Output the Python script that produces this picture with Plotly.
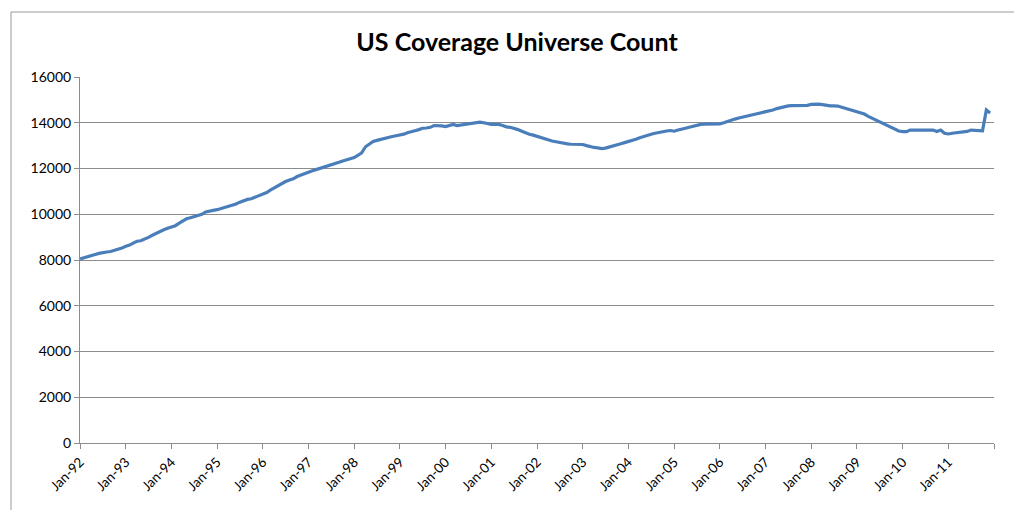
import pandas as pd
import plotly.graph_objects as go

# Monthly count of US companies under coverage, Jan-1992 .. Dec-2011 (one row per year)
counts_1992 = [8050, 8090, 8140, 8190, 8240, 8290, 8330, 8350, 8370, 8410, 8460, 8520]
counts_1993 = [8600, 8650, 8740, 8820, 8840, 8900, 8990, 9080, 9170, 9250, 9320, 9390]
counts_1994 = [9450, 9500, 9600, 9700, 9800, 9850, 9900, 9950, 10000, 10100, 10150, 10170]
counts_1995 = [10200, 10250, 10300, 10350, 10400, 10450, 10530, 10600, 10650, 10680, 10750, 10800]
counts_1996 = [10880, 10950, 11050, 11150, 11250, 11350, 11430, 11500, 11550, 11650, 11720, 11780]
counts_1997 = [11830, 11900, 11950, 12000, 12040, 12100, 12150, 12200, 12270, 12330, 12380, 12420]
counts_1998 = [12480, 12580, 12680, 12950, 13080, 13180, 13230, 13280, 13320, 13360, 13400, 13430]
counts_1999 = [13450, 13500, 13560, 13620, 13650, 13700, 13760, 13770, 13800, 13880, 13880, 13860]
counts_2000 = [13830, 13900, 13930, 13880, 13900, 13940, 13960, 13980, 14000, 14030, 14000, 13950]
counts_2001 = [13930, 13930, 13930, 13880, 13820, 13800, 13760, 13700, 13630, 13560, 13500, 13460]
counts_2002 = [13400, 13350, 13300, 13250, 13200, 13170, 13130, 13100, 13080, 13060, 13060, 13060]
counts_2003 = [13050, 13000, 12950, 12920, 12900, 12870, 12890, 12930, 12980, 13030, 13080, 13130]
counts_2004 = [13170, 13230, 13280, 13340, 13400, 13460, 13500, 13540, 13580, 13610, 13640, 13660]
counts_2005 = [13630, 13680, 13730, 13760, 13800, 13850, 13900, 13930, 13940, 13940, 13940, 13940]
counts_2006 = [13950, 14000, 14060, 14110, 14160, 14210, 14250, 14280, 14320, 14360, 14380, 14430]
counts_2007 = [14480, 14520, 14560, 14620, 14660, 14710, 14740, 14750, 14750, 14750, 14750, 14760]
counts_2008 = [14800, 14810, 14810, 14790, 14750, 14740, 14740, 14730, 14680, 14630, 14570, 14500]
counts_2009 = [14470, 14430, 14380, 14280, 14200, 14120, 14070, 13990, 13910, 13830, 13740, 13640]
counts_2010 = [13610, 13610, 13680, 13680, 13680, 13680, 13680, 13680, 13680, 13620, 13680, 13540]
counts_2011 = [13510, 13540, 13560, 13570, 13570, 13620, 13680, 13670, 13650, 13650, 14560, 14430]

yearly = [counts_1992, counts_1993, counts_1994, counts_1995, counts_1996,
          counts_1997, counts_1998, counts_1999, counts_2000, counts_2001,
          counts_2002, counts_2003, counts_2004, counts_2005, counts_2006,
          counts_2007, counts_2008, counts_2009, counts_2010, counts_2011]
counts = [v for year in yearly for v in year]
months = pd.date_range("1992-01-01", periods=len(counts), freq="MS")

# Axis labels
tick_years = list(range(1992, 2013))
tick_labels = [f"Jan-{y % 100:02d}" for y in range(1992, 2012)] + [""]
y_ticks = [0, 2000, 4000, 6000, 8000, 10000, 12000, 14000, 16000]

GRID = "#8c8c8c"
FONT = "Lato, 'Open Sans', Arial, sans-serif"

fig = go.Figure()
fig.add_trace(go.Scatter(
    x=months, y=counts, mode="lines",
    line=dict(color="#4a7ebb", width=3.2),
    hoverinfo="x+y", showlegend=False,
))

# outer chart frame
L, R, T, B = 80, 20, 77, 67
W, H = 1014, 510
pw, ph = W - L - R, H - T - B
def px_x(p):
    return (p - L) / pw
def px_y(p):
    return (H - B - p) / ph

fig.add_shape(type="rect", xref="paper", yref="paper",
              x0=px_x(11), x1=px_x(1024), y0=px_y(525), y1=px_y(12),
              line=dict(color="#9a9a9a", width=1), fillcolor="rgba(0,0,0,0)", layer="below")

fig.update_layout(
    width=W, height=H,
    margin=dict(l=L, r=R, t=T, b=B, pad=0),
    paper_bgcolor="white", plot_bgcolor="white",
    font=dict(family=FONT, size=13, color="#000000"),
    title=dict(text="<b>US Coverage Universe Count</b>",
               font=dict(family=FONT, size=25, color="#000000"),
               x=px_x(517), xref="paper", xanchor="center",
               y=1 - 42 / H, yref="container", yanchor="middle"),
    xaxis=dict(
        type="date",
        range=["1992-01-01", "2012-01-01"],
        tickvals=[pd.Timestamp(f"{y}-01-01") for y in tick_years],
        ticktext=tick_labels,
        tickangle=-45,
        showgrid=False, zeroline=False,
        showline=True, linecolor=GRID, linewidth=1,
        ticks="outside", ticklen=5, tickcolor=GRID, tickwidth=1,
        tickfont=dict(family=FONT, size=13.5),
    ),
    yaxis=dict(
        range=[0, 16000],
        tickvals=y_ticks,
        ticktext=[str(v) for v in y_ticks],
        showgrid=True, gridcolor=GRID, gridwidth=1,
        zeroline=False,
        showline=True, linecolor=GRID, linewidth=1,
        ticks="outside", ticklen=5, tickcolor=GRID, tickwidth=1,
        tickfont=dict(family=FONT, size=14),
    ),
)

fig.write_html("out.html")
